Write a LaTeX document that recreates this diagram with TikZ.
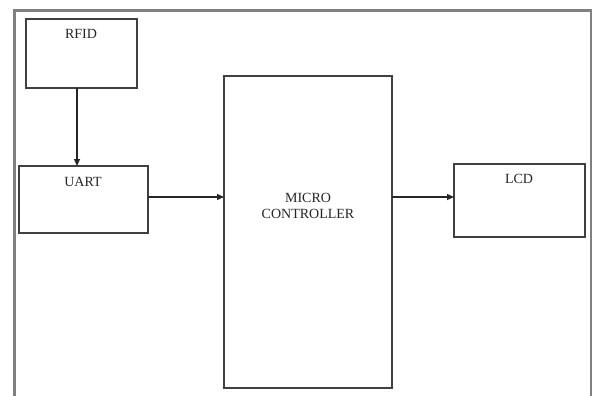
\documentclass[tikz,border=0pt]{standalone}
\usepackage{fontspec}
\setmainfont{Liberation Serif}
\usetikzlibrary{arrows.meta}
\begin{document}
\begin{tikzpicture}[x=1pt,y=-1pt,
  blk/.style={draw=black!75,line width=1.8pt,fill=white},
  lbl/.style={font=\fontsize{14}{16}\selectfont,text=black!85,inner sep=0pt},
  conn/.style={draw=black!85,line width=1.2pt,-{Triangle[length=7pt,width=6pt]}},
  frame/.style={draw=black!50}]
\useasboundingbox (0,0) rectangle (592,396);
\fill[white] (0,0) rectangle (592,396);
% outer frame
\draw[frame,line width=3pt] (14,11) -- (592,11);
\draw[frame,line width=3pt] (14,9.5) -- (14,396);
\draw[frame,line width=1.2pt] (591,11) -- (591,396);
% boxes
\node[blk,minimum width=111pt,minimum height=69pt,inner sep=0pt] (rfid) at (81.5,53.5) {};
\node[blk,minimum width=129pt,minimum height=67pt,inner sep=0pt] (uart) at (83.5,199.5) {};
\node[blk,minimum width=168pt,minimum height=312pt,inner sep=0pt] (mc) at (308,232) {};
\node[blk,minimum width=131pt,minimum height=73pt,inner sep=0pt] (lcd) at (519.5,200.5) {};
% labels
\node[lbl] (trfid) at (81,34) {RFID};
\node[lbl] (tuart) at (83,182) {UART};
\node[lbl,align=center] (tmc) at (308,206) {MICRO\\CONTROLLER};
\node[lbl] (tlcd) at (519,179) {LCD};
% connectors
\coordinate (rb) at (77,88);
\coordinate (ut) at (77,166);
\draw[conn] (rb) -- (ut);
\coordinate (ur) at (148,197);
\coordinate (ml) at (224,197);
\draw[conn] (ur) -- (ml);
\coordinate (mr) at (392,197);
\coordinate (ll) at (454,197);
\draw[conn] (mr) -- (ll);
\end{tikzpicture}
\end{document}
